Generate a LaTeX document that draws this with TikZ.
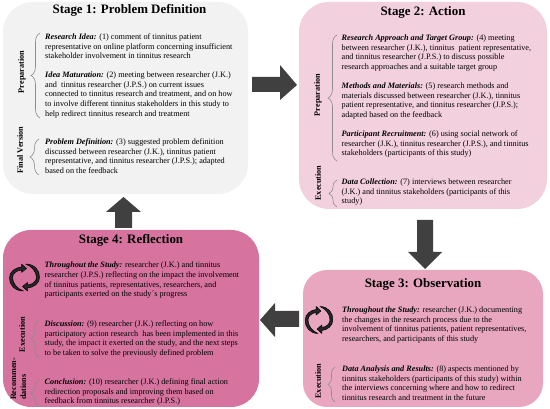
\documentclass[tikz,border=0pt]{standalone}
\usepackage{fontspec}
\setmainfont{Liberation Serif}
\usetikzlibrary{decorations.pathreplacing}
\definecolor{sone}{HTML}{F2F2F2}
\definecolor{stwo}{HTML}{F3D0DD}
\definecolor{sthree}{HTML}{E8A7BE}
\definecolor{sfour}{HTML}{D6749F}
\definecolor{arrowgrey}{HTML}{404040}
\definecolor{bracegrey}{HTML}{8C8C8C}
\tikzset{
  stagebox/.style={rounded corners=#1,draw=none},
  stagetitle/.style={font=\fontsize{12.9}{15}\selectfont\bfseries,inner sep=0pt,text=black},
  body/.style={anchor=north west,align=left,inner sep=0pt,font=\fontsize{8.22}{9.65}\selectfont,text=black},
  sidelabel/.style={rotate=90,font=\fontsize{8.2}{9.8}\selectfont\bfseries,inner sep=0pt},
  bracket/.style={draw=bracegrey,line width=0.6pt,decorate,decoration={brace,amplitude=#1,mirror}},
  bracket/.default=9pt,
  bigarrow/.style={fill=arrowgrey,draw=none},
  cyclepart/.style={fill=black!85,draw=black,line width=0.5pt,line join=round},
}
\newcommand{\hd}[1]{\textbf{\textit{#1}}}
\newcommand{\cyclehalf}{%
  (-1,13.5) .. controls (-10,13.5) and (-15.5,7) .. (-15,0)
  .. controls (-15,-6) and (-9,-10) .. (-3,-10.5)
  -- (-3,-13.5) -- (2,-9) -- (-3,-5) -- (-3,-7.5)
  .. controls (-8,-7) and (-12,-4) .. (-12,0)
  .. controls (-12,6) and (-7,11.5) .. (-1,13.5) -- cycle}
\newcommand{\cycleicon}[3]{%
  \begin{scope}[shift={(#1,#2)},xscale=#3,yscale=1]
    \draw[cyclepart] \cyclehalf;
    \begin{scope}[xscale=-1,yscale=-1]
      \draw[cyclepart] \cyclehalf;
    \end{scope}
  \end{scope}}
\begin{document}
\begin{tikzpicture}[x=1pt,y=-1pt]
\useasboundingbox (0,0) rectangle (550,409);
\fill[white] (0,0) rectangle (550,409);

% stage boxes
\fill[sone,stagebox=30pt] (3,2) rectangle (248,194);
\fill[stwo,stagebox=30pt] (299,2) rectangle (547,209);
\fill[sthree,stagebox=24pt] (303,270) rectangle (543,407);
\fill[sfour,stagebox=28pt] (3,230) rectangle (259,407);

% big arrows
\fill[bigarrow] (252,77) -- (280,77) -- (280,65) -- (297,85) -- (280,100) -- (280,92) -- (252,92) -- cycle;
\fill[bigarrow] (417,220) -- (433,220) -- (433,252) -- (442,252) -- (425,269) -- (408,252) -- (417,252) -- cycle;
\fill[bigarrow] (299,311) -- (299,327) -- (275,327) -- (275,337) -- (260,320) -- (275,303) -- (275,311) -- cycle;
\fill[bigarrow] (115,228) -- (132,228) -- (132,212) -- (141,212) -- (123.5,197) -- (106,212) -- (115,212) -- cycle;

% titles
\node[stagetitle] (t1) at (129.5,10.5) {Stage 1: Problem Definition};
\node[stagetitle] (t2) at (423,12.5) {Stage 2: Action};
\node[stagetitle] (t3) at (423,284) {Stage 3: Observation};
\node[stagetitle] (t4) at (131,240) {Stage 4: Reflection};

% stage 1
\node[body] (a1) at (45,33.5) {\hd{Research Idea:} (1) comment of tinnitus patient\\representative on online platform concerning insufficient\\stakeholder involvement in tinnitus research};
\node[body] (a2) at (45,71.5) {\hd{Idea Maturation:} (2) meeting between researcher (J.K.)\\and\ \ tinnitus researcher (J.P.S.) on current issues\\connected to tinnitus research and treatment, and on how\\to involve different tinnitus stakeholders in this study to\\help redirect tinnitus research and treatment};
\node[body] (a3) at (45,138.5) {\hd{Problem Definition:} (3) suggested problem definition\\discussed between researcher (J.K.), tinnitus patient\\representative, and tinnitus researcher (J.P.S.); adapted\\based on the feedback};

% stage 2
\node[body] (b1) at (341.5,34.5) {\hd{Research Approach and Target Group:} (4) meeting\\between researcher (J.K.), tinnitus\ \ patient representative,\\and tinnitus researcher (J.P.S.) to discuss possible\\research approaches and a suitable target group};
\node[body] (b2) at (341.5,82.5) {\hd{Methods and Materials:} (5) research methods and\\materials discussed between researcher (J.K.), tinnitus\\patient representative, and tinnitus researcher (J.P.S.);\\adapted based on the feedback};
\node[body] (b3) at (341.5,130.5) {\hd{Participant Recruitment:} (6) using social network of\\researcher (J.K.), tinnitus researcher (J.P.S.), and tinnitus\\stakeholders (participants of this study)};
\node[body] (b4) at (341.5,178.5) {\hd{Data Collection:} (7) interviews between researcher\\(J.K.) and tinnitus stakeholders (participants of this\\study)};

% stage 3
\node[body] (c1) at (342,306.5) {\hd{Throughout the Study:} researcher (J.K.) documenting\\the changes in the research process due to the\\involvement of tinnitus patients, patient representatives,\\researchers, and participants of this study};
\node[body] (c2) at (342,365.5) {\hd{Data Analysis and Results:} (8) aspects mentioned by\\tinnitus stakeholders (participants of this study) within\\the interviews concerning where and how to redirect\\tinnitus research and treatment in the future};

% stage 4
\node[body] (d1) at (44.5,262) {\hd{Throughout the Study:} researcher (J.K.) and tinnitus\\researcher (J.P.S.) reflecting on the impact the involvement\\of tinnitus patients, representatives, researchers, and\\participants exerted on the study´s progress};
\node[body] (d2) at (44.5,320.5) {\hd{Discussion:} (9) researcher (J.K.) reflecting on how\\participatory action research\ \ has been implemented in this\\study, the impact it exerted on the study, and the next steps\\to be taken to solve the previously defined problem};
\node[body] (d3) at (44.5,378.5) {\hd{Conclusion:} (10) researcher (J.K.) defining final action\\redirection proposals and improving them based on\\feedback from tinnitus researcher (J.P.S.)};

% braces
\draw[bracket] (40,33) -- (40,118);
\draw[bracket] (39,139) -- (39,175);
\draw[bracket] (337,35) -- (337,161);
\draw[bracket=8pt] (337,180) -- (337,207);
\draw[bracket=7pt] (335,367) -- (335,402);
\draw[bracket=8pt] (39,320) -- (39,358);
\draw[bracket=8pt] (39,380) -- (39,407);

% side labels
\node[sidelabel] (l1) at (22,72) {Preparation};
\node[sidelabel] (l2) at (20,150) {Final Version};
\node[sidelabel] (l3) at (318,95) {Preparation};
\node[sidelabel] (l4) at (318,183) {Execution};
\node[sidelabel] (l5) at (318,381) {Execution};
\node[sidelabel] (l6) at (22,334.5) {Execution};
\node[sidelabel,align=left] (l7) at (18.5,379) {Recommen-\\dations};

% cycle icons
\cycleicon{24.5}{277.5}{1}
\cycleicon{319}{320}{0.92}
\end{tikzpicture}
\end{document}
